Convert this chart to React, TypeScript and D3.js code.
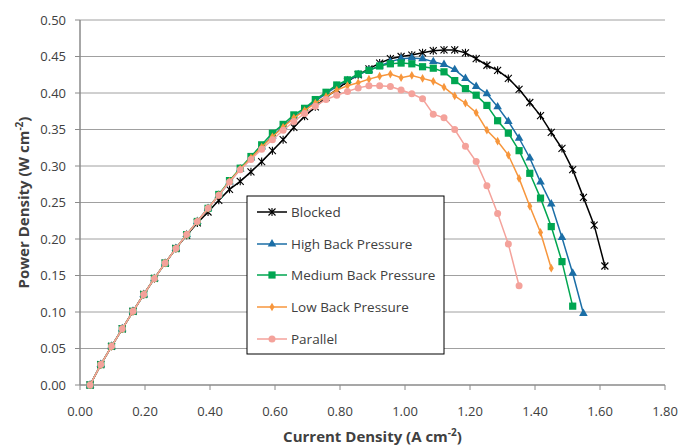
import React from "react";
import * as d3 from "d3";

const currents = [
  0.031, 0.064, 0.097, 0.130, 0.163, 0.196, 0.229, 0.262, 0.295, 0.328,
  0.361, 0.394, 0.427, 0.460, 0.493, 0.526, 0.559, 0.592, 0.625, 0.658,
  0.691, 0.724, 0.757, 0.790, 0.823, 0.856, 0.889, 0.922, 0.955, 0.988,
  1.021, 1.054, 1.087, 1.120, 1.153, 1.186, 1.219, 1.252, 1.285, 1.318,
  1.351, 1.384, 1.417, 1.450, 1.483, 1.516, 1.549, 1.582, 1.615,
];

const blocked = [
  0.000, 0.028, 0.053, 0.077, 0.101, 0.124, 0.146, 0.167, 0.187, 0.205,
  0.222, 0.237, 0.253, 0.268, 0.279, 0.292, 0.306, 0.321, 0.336, 0.353,
  0.368, 0.381, 0.394, 0.405, 0.416, 0.425, 0.433, 0.441, 0.447, 0.450,
  0.452, 0.455, 0.458, 0.459, 0.459, 0.455, 0.447, 0.438, 0.431, 0.420,
  0.405, 0.387, 0.369, 0.346, 0.324, 0.295, 0.257, 0.219, 0.163,
];

const highBack = [
  0.000, 0.028, 0.053, 0.077, 0.101, 0.124, 0.146, 0.167, 0.187, 0.206,
  0.224, 0.242, 0.260, 0.278, 0.296, 0.311, 0.326, 0.341, 0.354, 0.367,
  0.377, 0.389, 0.399, 0.409, 0.417, 0.425, 0.431, 0.437, 0.443, 0.447,
  0.448, 0.447, 0.443, 0.439, 0.432, 0.420, 0.409, 0.399, 0.381, 0.361,
  0.338, 0.311, 0.278, 0.248, 0.202, 0.153, 0.098,
];

const mediumBack = [
  0.000, 0.028, 0.053, 0.077, 0.101, 0.124, 0.146, 0.167, 0.187, 0.206,
  0.224, 0.242, 0.261, 0.280, 0.297, 0.313, 0.329, 0.345, 0.357, 0.370,
  0.379, 0.391, 0.401, 0.411, 0.418, 0.426, 0.431, 0.437, 0.440, 0.441,
  0.440, 0.436, 0.434, 0.429, 0.417, 0.406, 0.397, 0.383, 0.362, 0.345,
  0.321, 0.290, 0.256, 0.217, 0.169, 0.108,
];

const lowBack = [
  0.000, 0.028, 0.053, 0.077, 0.101, 0.124, 0.146, 0.167, 0.187, 0.206,
  0.224, 0.242, 0.260, 0.279, 0.296, 0.311, 0.326, 0.340, 0.353, 0.366,
  0.376, 0.386, 0.395, 0.404, 0.410, 0.414, 0.419, 0.423, 0.426, 0.421,
  0.424, 0.420, 0.416, 0.408, 0.396, 0.386, 0.373, 0.349, 0.334, 0.315,
  0.283, 0.245, 0.209, 0.160,
];

const parallel = [
  0.000, 0.028, 0.053, 0.077, 0.101, 0.124, 0.146, 0.167, 0.187, 0.206,
  0.224, 0.242, 0.260, 0.278, 0.295, 0.309, 0.323, 0.336, 0.349, 0.361,
  0.372, 0.382, 0.391, 0.397, 0.402, 0.407, 0.410, 0.410, 0.409, 0.404,
  0.399, 0.392, 0.371, 0.366, 0.350, 0.327, 0.306, 0.273, 0.235, 0.193,
  0.136,
];

const seriesNames = [
  "Blocked",
  "High Back Pressure",
  "Medium Back Pressure",
  "Low Back Pressure",
  "Parallel",
];
const seriesValues = [blocked, highBack, mediumBack, lowBack, parallel];
const seriesColors = ["#000000", "#1b6ea6", "#00a651", "#f7963c", "#f4a29b"];
const seriesMarkers = ["star", "triangle", "square", "diamond", "circle"];

const xTicks = [0, 0.2, 0.4, 0.6, 0.8, 1.0, 1.2, 1.4, 1.6, 1.8];
const yTicks = [0, 0.05, 0.1, 0.15, 0.2, 0.25, 0.3, 0.35, 0.4, 0.45, 0.5];

const W = 681;
const H = 446;
const left = 80;
const right = 665;
const top = 20;
const bottom = 385;
const FONT = "'Open Sans', 'Liberation Sans', sans-serif";
const TEXT = "#404040";

function Marker({ kind, color, x, y }: { kind: string; color: string; x: number; y: number }) {
  if (kind === "star") {
    return (
      <path
        d={`M${x - 3.5},${y - 3.5}L${x + 3.5},${y + 3.5}M${x - 3.5},${y + 3.5}L${x + 3.5},${y - 3.5}M${x},${y - 4}L${x},${y + 4}`}
        stroke={color}
        strokeWidth={1.1}
        fill="none"
      />
    );
  }
  if (kind === "triangle") {
    const p = d3.symbol().type(d3.symbolTriangle).size(32)();
    return <path d={p || ""} transform={`translate(${x},${y})`} fill={color} />;
  }
  if (kind === "square") {
    return <rect x={x - 3.6} y={y - 3.6} width={7.2} height={7.2} fill={color} />;
  }
  if (kind === "diamond") {
    const p = d3.symbol().type(d3.symbolDiamond).size(22)();
    return <path d={p || ""} transform={`translate(${x},${y})`} fill={color} />;
  }
  return <circle cx={x} cy={y} r={3.5} fill={color} />;
}

export default function App() {
  const x = d3.scaleLinear().domain([0, 1.8]).range([left, right]);
  const y = d3.scaleLinear().domain([0, 0.5]).range([bottom, top]);

  const line = d3
    .line<[number, number]>()
    .x((d) => x(d[0]))
    .y((d) => y(d[1]));

  const legendX = 247;
  const legendY = 196;
  const legendW = 197;
  const legendH = 158;
  const legendRows = [212, 244, 275, 307, 339];

  return (
    <svg
      width={W}
      height={H}
      style={{ position: "absolute", left: 0, top: 0, background: "#fff" }}
      fontFamily={FONT}
    >
      <rect width={W} height={H} fill="#fff" />
      {yTicks.map((t) =>
        t === 0 ? null : (
          <line key={"g" + t} x1={left} x2={right} y1={y(t)} y2={y(t)} stroke="#a0a0a0" strokeWidth={1} />
        )
      )}
      {/* axes */}
      <line x1={left} x2={left} y1={top} y2={bottom} stroke="#8a8a8a" strokeWidth={1.5} />
      <line x1={left} x2={right} y1={bottom} y2={bottom} stroke="#8a8a8a" strokeWidth={1.5} />
      {yTicks.map((t) => (
        <g key={"yt" + t}>
          <line x1={left - 5} x2={left} y1={y(t)} y2={y(t)} stroke="#8a8a8a" strokeWidth={1} />
          <text x={left - 14} y={y(t)} dy="0.35em" textAnchor="end" fontSize={13} fill={TEXT}>
            {t.toFixed(2)}
          </text>
        </g>
      ))}
      {xTicks.map((t) => (
        <g key={"xt" + t}>
          <line x1={x(t)} x2={x(t)} y1={bottom} y2={bottom + 5} stroke="#8a8a8a" strokeWidth={1} />
          <text x={x(t)} y={411} dy="0.35em" textAnchor="middle" fontSize={13} fill={TEXT}>
            {t.toFixed(2)}
          </text>
        </g>
      ))}
      {/* axis titles */}
      <text x={(left + right) / 2} y={437} dy="0.35em" textAnchor="middle" fontSize={15} fontWeight="bold" fill={TEXT}>
        Current Density (A cm
        <tspan fontSize={10} dy="-6">-2</tspan>
        <tspan dy="6">)</tspan>
      </text>
      <text
        transform={`translate(24,${(top + bottom) / 2}) rotate(-90)`}
        textAnchor="middle"
        dy="0.35em"
        fontSize={15}
        fontWeight="bold"
        fill={TEXT}
      >
        Power Density (W cm
        <tspan fontSize={10} dy="-6">-2</tspan>
        <tspan dy="6">)</tspan>
      </text>
      {/* series */}
      {seriesValues.map((vals, i) => {
        const pts: [number, number][] = vals.map((v, k) => [currents[k], v]);
        return (
          <g key={"s" + i}>
            <path d={line(pts) || ""} fill="none" stroke={seriesColors[i]} strokeWidth={1.5} />
            {pts.map((p, k) => (
              <Marker key={k} kind={seriesMarkers[i]} color={seriesColors[i]} x={x(p[0])} y={y(p[1])} />
            ))}
          </g>
        );
      })}
      {/* legend */}
      <rect x={legendX} y={legendY} width={legendW} height={legendH} fill="#fff" stroke="#000" strokeWidth={1} />
      {seriesNames.map((n, i) => (
        <g key={"l" + i}>
          <line x1={257} x2={287} y1={legendRows[i]} y2={legendRows[i]} stroke={seriesColors[i]} strokeWidth={1.5} />
          <Marker kind={seriesMarkers[i]} color={seriesColors[i]} x={272} y={legendRows[i]} />
          <text x={291} y={legendRows[i]} dy="0.35em" fontSize={13.5} fill={TEXT}>
            {n}
          </text>
        </g>
      ))}
    </svg>
  );
}
